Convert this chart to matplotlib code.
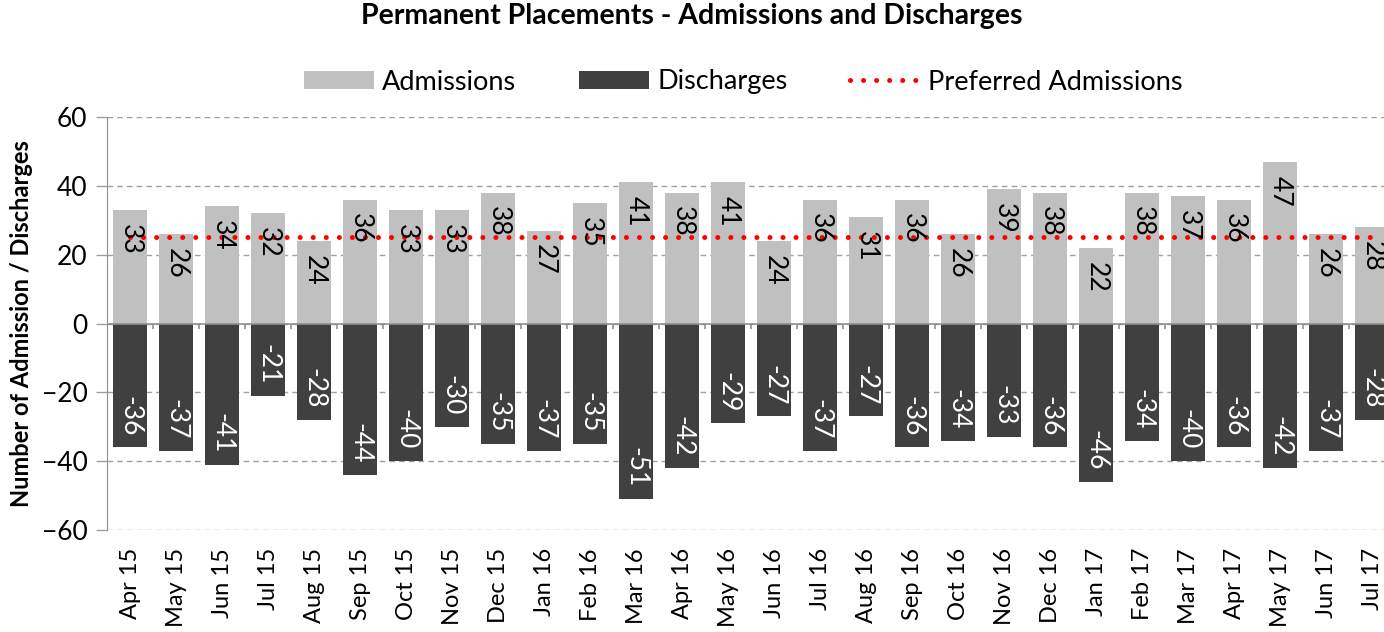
import matplotlib
matplotlib.use("Agg")
import matplotlib.pyplot as plt
import numpy as np
from matplotlib.lines import Line2D
from matplotlib.patches import Patch

months = ["Apr 15", "May 15", "Jun 15", "Jul 15", "Aug 15", "Sep 15", "Oct 15", "Nov 15",
          "Dec 15", "Jan 16", "Feb 16", "Mar 16", "Apr 16", "May 16", "Jun 16", "Jul 16",
          "Aug 16", "Sep 16", "Oct 16", "Nov 16", "Dec 16", "Jan 17", "Feb 17", "Mar 17",
          "Apr 17", "May 17", "Jun 17", "Jul 17"]
admissions = [33, 26, 34, 32, 24, 36, 33, 33, 38, 27, 35, 41, 38, 41, 24, 36, 31, 36, 26,
              39, 38, 22, 38, 37, 36, 47, 26, 28]
discharges = [-36, -37, -41, -21, -28, -44, -40, -30, -35, -37, -35, -51, -42, -29, -27,
              -37, -27, -36, -34, -33, -36, -46, -34, -40, -36, -42, -37, -28]
preferred = [25] * len(months)

plt.rcParams['font.family'] = ['Lato', 'DejaVu Sans']

fig = plt.figure(figsize=(13.84, 6.32), dpi=100)
ax = fig.add_axes([107/1384, 1 - 530/632, (1384 - 107)/1384, (530 - 117)/632])

x = np.arange(len(months))
w = 0.72
adm_color = "#c0c0c0"
dis_color = "#404040"
ax.bar(x, admissions, width=w, color=adm_color, zorder=2)
ax.bar(x, discharges, width=w, color=dis_color, zorder=2)
ax.plot(x, preferred, color="#ff0000", linewidth=3.6, linestyle=(0, (0.01, 2.6)),
        dash_capstyle='round', zorder=4)

for xi, v in zip(x, admissions):
    ax.text(xi, v - 4.0, str(v), rotation=270, ha='center', va='top', fontsize=19,
            color='black', zorder=5)
for xi, v in zip(x, discharges):
    ax.text(xi, v + 3.3, str(v), rotation=270, ha='center', va='bottom', fontsize=19,
            color='white', zorder=5)

ax.set_ylim(-60, 60)
ax.set_xlim(-0.5, 27.26)
ax.set_yticks(range(-60, 61, 20))
ax.yaxis.grid(True, linestyle=(0, (4, 3)), color='#a0a0a0', linewidth=1, zorder=0)
ax.set_axisbelow(True)
ax.set_xticks(x)
ax.set_xticklabels(months, rotation=90, fontsize=17)
ax.tick_params(axis='x', length=0, pad=13)
ax.tick_params(axis='y', labelsize=19, length=8, color='#a0a0a0', width=1, pad=6)
for s in ['top', 'right', 'bottom']:
    ax.spines[s].set_visible(False)
ax.spines['left'].set_color('#909090')
ax.axhline(0, color='#909090', linewidth=1.2, zorder=3)
ax.vlines(x[:-1] + 0.5, -1.5, 0, color='#909090', linewidth=1.2, zorder=3)

ax.set_ylabel("Number of Admission / Discharges", fontsize=17, fontweight='bold', labelpad=6)

fig.suptitle("Permanent Placements - Admissions and Discharges", fontsize=20.5,
             fontweight='bold', y=0.995)

handles = [Patch(facecolor=adm_color, label="Admissions"),
           Patch(facecolor=dis_color, label="Discharges"),
           Line2D([0], [0], color="#ff0000", linewidth=3.6, linestyle=(0, (0.01, 2.6)),
                  dash_capstyle='round', label="Preferred Admissions")]
fig.legend(handles=handles, loc='center', bbox_to_anchor=(0.537, 1 - 82/632), ncol=3,
           frameon=False, fontsize=19.5, handlelength=2.6, handleheight=0.65,
           columnspacing=2.3, handletextpad=0.3)

fig.savefig("out.png", dpi=100)
